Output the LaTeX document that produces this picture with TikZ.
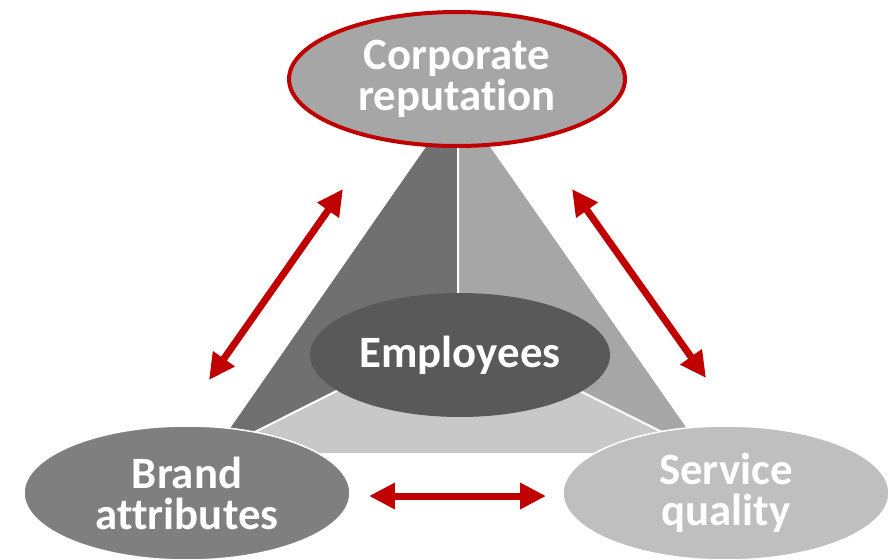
\documentclass[tikz,border=0pt]{standalone}
\usepackage{fontspec}
\setmainfont{Carlito}[Ligatures=NoCommon]
\usepackage{tikz}
\usetikzlibrary{arrows.meta,shapes.geometric,calc}

\definecolor{arrowred}{HTML}{C00000}
\definecolor{faceleft}{HTML}{707070}
\definecolor{faceright}{HTML}{A6A6A6}
\definecolor{facebottom}{HTML}{C8C8C8}
\definecolor{empgray}{HTML}{595959}
\definecolor{brandgray}{HTML}{7F7F7F}
\definecolor{servgray}{HTML}{BFBFBF}

\tikzset{
    bubble/.style={ellipse, inner sep=0pt, align=center, text=white,
        font=\bfseries\fontsize{25.5}{23.4}\selectfont},
    link/.style={{Triangle[length=0.52cm,width=0.5cm]}-{Triangle[length=0.52cm,width=0.5cm]},
        draw=arrowred, line width=0.14cm}
}

\begin{document}
\begin{tikzpicture}[x=0.02cm, y=-0.02cm]
        \useasboundingbox (0,0) rectangle (893,559);

        % Pyramid corners
        \coordinate (apex) at (458,101);
        \coordinate (left) at (213,453);
        \coordinate (right) at (704,453);
        \coordinate (mid) at (458,330);

        % Draw faces
        \fill[faceleft] (apex) -- (mid) -- (left) -- cycle;
        \fill[faceright] (apex) -- (mid) -- (right) -- cycle;
        \fill[facebottom] (mid) -- (left) -- (right) -- cycle;
        \draw[white, line width=0.04cm] (left) -- (mid) -- (right) (mid) -- (apex);

        % Draw Employees
        \node[bubble, fill=empgray, minimum width=6cm, minimum height=2.48cm] (emp) at (460,355) {Employees};

        % Draw corners of the triangle
        \node[bubble, fill=brandgray, draw=white, line width=0.03cm, minimum width=6.52cm, minimum height=2.68cm] (brand) at (187,493) {Brand\\attributes};
        \node[bubble, fill=servgray, draw=white, line width=0.03cm, minimum width=6.52cm, minimum height=2.68cm] (service) at (726,493) {Service\\quality};
        \node[bubble, fill=faceright, draw=arrowred, line width=0.08cm, minimum width=6.72cm, minimum height=2.68cm] (reputation) at (457,79) {Corporate\\reputation};

        % Arrow ends
        \coordinate (rep-l) at (343,189);
        \coordinate (brand-u) at (209,380);
        \coordinate (rep-r) at (572,189);
        \coordinate (serv-u) at (706,378);
        \coordinate (brand-r) at (369,496);
        \coordinate (serv-l) at (546,496);

        % Draw separate arrows
        \draw[link] (brand-u) -- (rep-l);
        \draw[link] (rep-r) -- (serv-u);
        \draw[link] (brand-r) -- (serv-l);
    \end{tikzpicture}
\end{document}
